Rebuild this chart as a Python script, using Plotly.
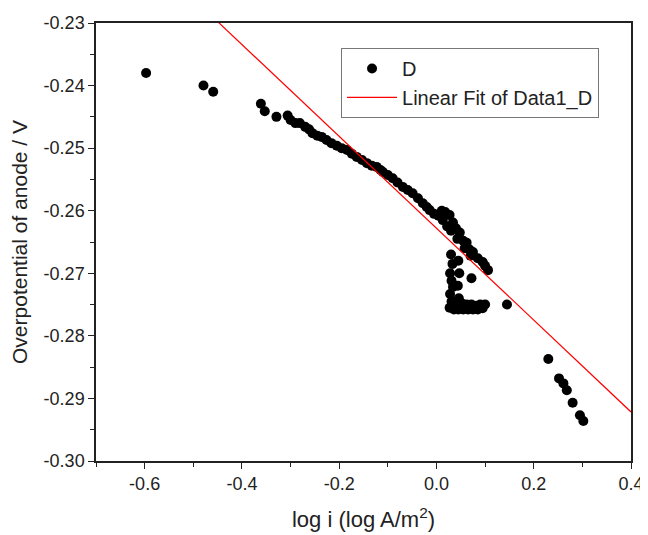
import numpy as np
import plotly.graph_objects as go

# Measured data (log i, overpotential)
log_i = [
    -0.597, -0.479, -0.459, -0.361, -0.353, -0.329, -0.306, -0.300,
    -0.290, -0.281, -0.270, -0.262, -0.255, -0.245, -0.236, -0.226,
    -0.216, -0.205, -0.195, -0.184, -0.174, -0.164, -0.153, -0.143,
    -0.133, -0.123, -0.115, -0.110, -0.100, -0.090, -0.080, -0.069,
    -0.059, -0.049, -0.038, -0.028, -0.020, -0.014, -0.005, 0.004,
    0.011, 0.018, 0.013, 0.027, 0.022, 0.034, 0.030, 0.040,
    0.048, 0.043, 0.055, 0.062, 0.058, 0.068, 0.075, 0.070,
    0.085, 0.095, 0.100, 0.106,
    0.030, 0.033, 0.028, 0.031, 0.034, 0.028, 0.031, 0.027,
    0.045, 0.047, 0.044, 0.046,
    0.036, 0.045, 0.055, 0.065, 0.075, 0.085, 0.095, 0.100,
    0.042, 0.052, 0.062, 0.072, 0.082, 0.090, 0.072, 0.145,
    0.230, 0.252, 0.261, 0.268, 0.280, 0.295, 0.302,
]
overpotential = [
    -0.2380, -0.2400, -0.2410, -0.2429, -0.2441, -0.2450, -0.2448, -0.2455,
    -0.2460, -0.2460, -0.2466, -0.2470, -0.2476, -0.2480, -0.2482, -0.2487,
    -0.2492, -0.2496, -0.2500, -0.2503, -0.2509, -0.2514, -0.2519, -0.2524,
    -0.2528, -0.2530, -0.2535, -0.2538, -0.2543, -0.2548, -0.2555, -0.2562,
    -0.2567, -0.2572, -0.2580, -0.2588, -0.2594, -0.2599, -0.2605, -0.2608,
    -0.2600, -0.2602, -0.2615, -0.2607, -0.2625, -0.2619, -0.2632, -0.2628,
    -0.2635, -0.2645, -0.2648, -0.2651, -0.2660, -0.2662, -0.2666, -0.2672,
    -0.2676, -0.2682, -0.2688, -0.2695,
    -0.2670, -0.2685, -0.2700, -0.2712, -0.2722, -0.2733, -0.2745, -0.2755,
    -0.2680, -0.2700, -0.2720, -0.2740,
    -0.2758, -0.2758, -0.2758, -0.2758, -0.2758, -0.2758, -0.2756, -0.2750,
    -0.2750, -0.2748, -0.2750, -0.2750, -0.2752, -0.2750, -0.2708, -0.2750,
    -0.2837, -0.2868, -0.2876, -0.2887, -0.2907, -0.2927, -0.2936,
]

# Linear fit parameters
fit_slope = -0.0734
fit_intercept = -0.2628
fit_x = np.array([-0.46, 0.40])
fit_y = fit_intercept + fit_slope * fit_x

# Tick values and labels (hyphen minus, as in the original)
x_tick_vals = [-0.6, -0.4, -0.2, 0.0, 0.2, 0.4]
x_tick_text = ["-0.6", "-0.4", "-0.2", "0.0", "0.2", "0.4"]
x_minor_vals = [-0.7, -0.5, -0.3, -0.1, 0.1, 0.3]
y_tick_vals = [-0.30, -0.29, -0.28, -0.27, -0.26, -0.25, -0.24, -0.23]
y_tick_text = ["-0.30", "-0.29", "-0.28", "-0.27", "-0.26", "-0.25", "-0.24", "-0.23"]
y_minor_vals = [-0.295, -0.285, -0.275, -0.265, -0.255, -0.245, -0.235]

fig = go.Figure()
fig.add_trace(go.Scatter(
    x=log_i, y=overpotential, mode="markers", name="D",
    marker=dict(color="black", size=10, line=dict(width=0)),
))
fig.add_trace(go.Scatter(
    x=fit_x, y=fit_y, mode="lines", name="Linear Fit of Data1_D",
    line=dict(color="red", width=1.2),
))

font_family = "Liberation Sans, Arial, sans-serif"
axis_common = dict(
    showline=True, linecolor="#222", linewidth=1.5, mirror=True,
    showgrid=False, zeroline=False, automargin=False,
    ticks="outside", ticklen=6, tickwidth=1.2, tickcolor="#222",
    tickfont=dict(family=font_family, size=18, color="#222"),
)
fig.update_xaxes(
    range=[-0.7, 0.4], tickmode="array", tickvals=x_tick_vals, ticktext=x_tick_text,
    minor=dict(ticks="outside", ticklen=4, tickmode="array", tickvals=x_minor_vals,
               tickcolor="#222"),
    title=dict(text="log i (log A/m<sup>2</sup>)",
               font=dict(family=font_family, size=22, color="#222"), standoff=18),
    **axis_common,
)
fig.update_yaxes(
    range=[-0.30, -0.23], tickmode="array", tickvals=y_tick_vals, ticktext=y_tick_text,
    minor=dict(ticks="outside", ticklen=4, tickmode="array", tickvals=y_minor_vals,
               tickcolor="#222"),
    title=dict(text="Overpotential of anode / V",
               font=dict(family=font_family, size=21, color="#222"), standoff=10),
    **axis_common,
)
# The page body has an 8px margin, so the figure is sized/margined to compensate.
fig.update_layout(
    width=640, height=527,
    margin=dict(l=88, r=17, t=15, b=74),
    plot_bgcolor="white", paper_bgcolor="white",
    showlegend=True,
    legend=dict(
        x=0.458, y=0.943, xanchor="left", yanchor="top",
        bordercolor="#777", borderwidth=1, bgcolor="white",
        font=dict(family=font_family, size=20, color="#222"),
        itemwidth=50, entrywidth=215, entrywidthmode="pixels", tracegroupgap=0,
    ),
)
fig.write_html("out.html")
